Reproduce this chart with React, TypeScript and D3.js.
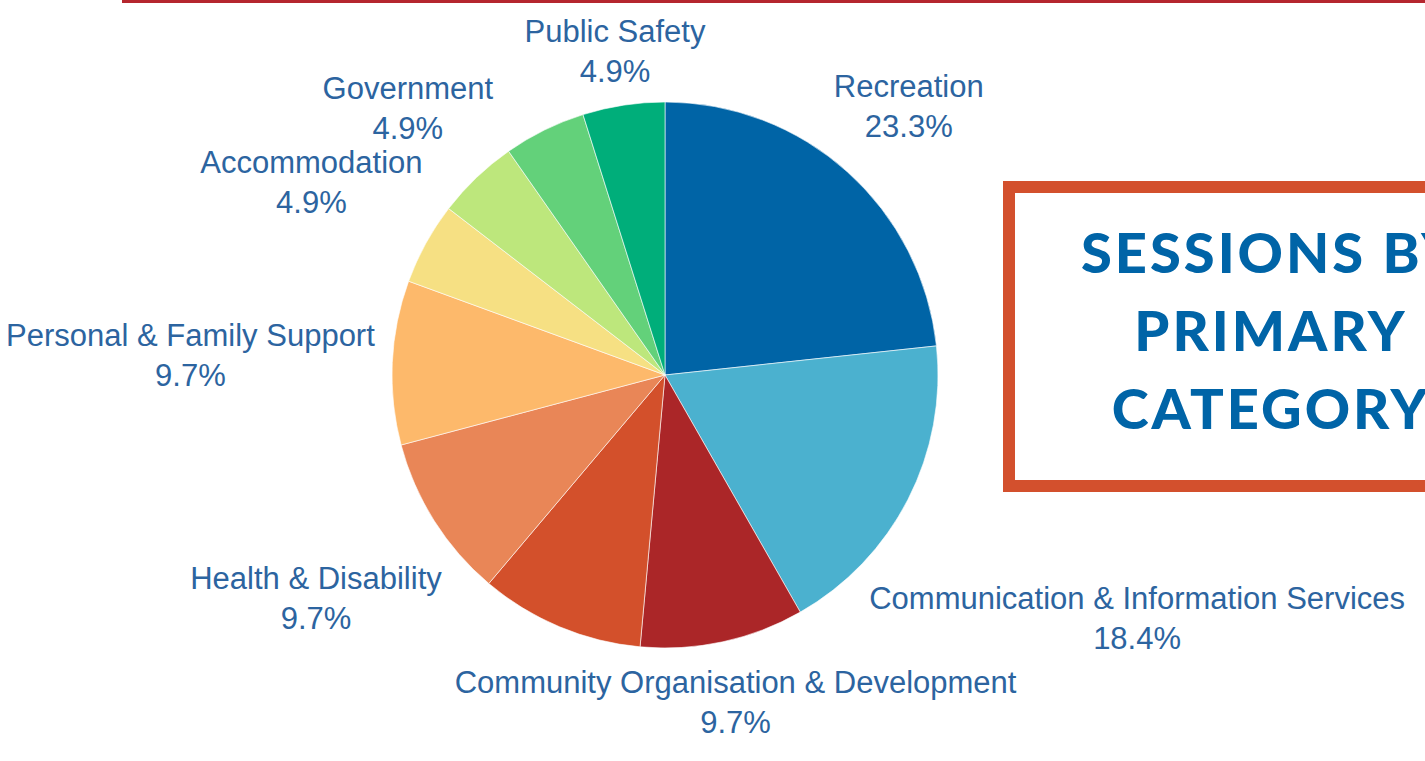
import React, { useRef, useEffect } from 'react';
import * as d3 from 'd3';

// slices clockwise from 12 o'clock; empty label = no label shown in the original
const categories = [
  'Recreation',
  'Communication & Information Services',
  'Community Organisation & Development',
  '',
  'Health & Disability',
  'Personal & Family Support',
  'Accommodation',
  'Government',
  '',
  'Public Safety',
];
const sessions = [24, 19, 10, 10, 10, 10, 5, 5, 5, 5];
const colors = [
  '#0064a6',
  '#4bb1cf',
  '#ab2628',
  '#d3502b',
  '#e98657',
  '#fdb96b',
  '#f6e083',
  '#bde77c',
  '#63d17a',
  '#00ae7a',
];
const titleLines = ['SESSIONS BY', 'PRIMARY', 'CATEGORY'];

const width = 1425;
const height = 761;
const cx = 665;
const cy = 375;
const radius = 273;
const labelGap = 17;
const fontSize = 31;
const lineHeight = 40;
const labelColor = '#2c64a0';

const App: React.FC = () => {
  const svgRef = useRef<SVGSVGElement>(null);

  useEffect(() => {
    const svg = d3.select(svgRef.current);
    svg.selectAll('*').remove();

    // top rule
    svg
      .append('rect')
      .attr('x', 122)
      .attr('y', 0)
      .attr('width', width - 122)
      .attr('height', 3)
      .attr('fill', '#b5262e');

    // title box
    svg
      .append('rect')
      .attr('x', 1009)
      .attr('y', 187)
      .attr('width', 500)
      .attr('height', 299)
      .attr('fill', 'none')
      .attr('stroke', '#d3502d')
      .attr('stroke-width', 12);

    svg
      .append('g')
      .selectAll('text')
      .data(titleLines)
      .join('text')
      .attr('x', 1271)
      .attr('y', (d, i) => 273 + i * 78)
      .attr('text-anchor', 'middle')
      .attr('font-family', 'Lato, sans-serif')
      .attr('font-weight', 900)
      .attr('font-size', 56)
      .attr('letter-spacing', 3)
      .attr('fill', '#0064a7')
      .text((d) => d);

    const total = d3.sum(sessions);
    const pie = d3
      .pie<number>()
      .sort(null)
      .value((d) => d);
    const arcs = pie(sessions);
    const arc = d3.arc<d3.PieArcDatum<number>>().innerRadius(0).outerRadius(radius);

    const g = svg.append('g').attr('transform', `translate(${cx},${cy})`);

    g.selectAll('path')
      .data(arcs)
      .join('path')
      .attr('d', arc)
      .attr('fill', (d, i) => colors[i])
      .attr('stroke', '#fff')
      .attr('stroke-width', 0.6);

    // outside labels placed along the mid-angle ray, just clear of the circle
    const labels = g
      .append('g')
      .attr('font-family', '"Liberation Sans", Arial, sans-serif')
      .attr('font-size', fontSize)
      .attr('fill', labelColor);

    arcs.forEach((a, i) => {
      if (!categories[i]) return;
      const t = labels
        .append('text')
        .attr('text-anchor', 'middle');
      t.append('tspan').attr('x', 0).attr('dy', 0).text(categories[i]);
      t.append('tspan')
        .attr('x', 0)
        .attr('dy', lineHeight)
        .text(d3.format('.1%')(a.value / total));

      const bb = (t.node() as SVGTextElement).getBBox();
      const hw = bb.width / 2;
      const hh = (lineHeight + fontSize) / 2;
      const mid = (a.startAngle + a.endAngle) / 2;
      const sx = Math.sin(mid);
      const sy = -Math.cos(mid);
      const need = radius + labelGap;
      // smallest distance along ray where nearest box point is `need` away
      let lo = 0;
      let hi = 1200;
      for (let k = 0; k < 40; k++) {
        const D = (lo + hi) / 2;
        const px = D * sx;
        const py = D * sy;
        const nx = Math.max(px - hw, Math.min(0, px + hw));
        const ny = Math.max(py - hh, Math.min(0, py + hh));
        if (Math.hypot(nx, ny) >= need) hi = D;
        else lo = D;
      }
      const px = hi * sx;
      const py = hi * sy;
      const top = py - hh;
      t.attr('transform', `translate(${px},${top + fontSize * 0.85 + 2})`);
    });
  }, []);

  return (
    <svg
      ref={svgRef}
      width={width}
      height={height}
      style={{ position: 'absolute', left: 0, top: 0, background: '#fff' }}
    />
  );
};

export default App;
